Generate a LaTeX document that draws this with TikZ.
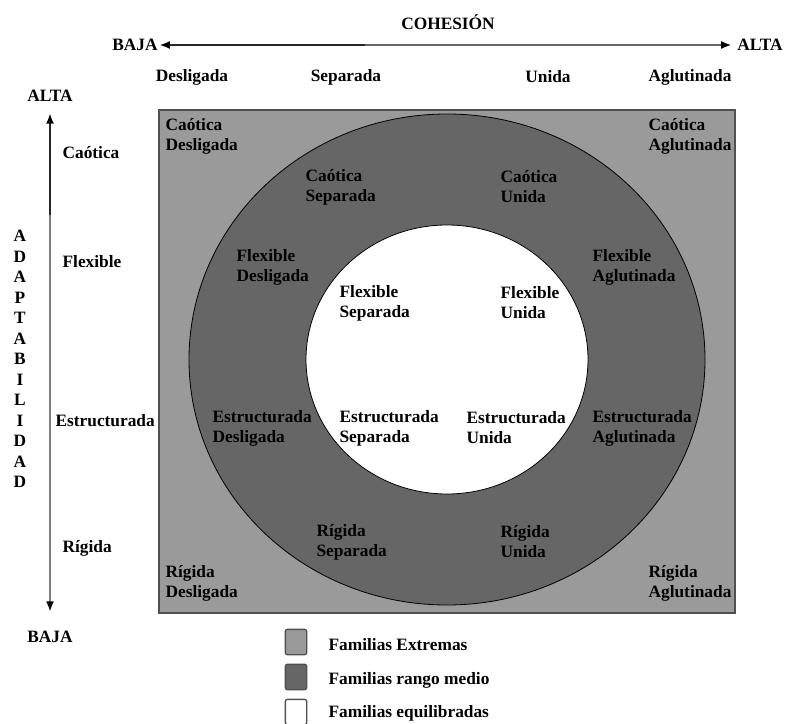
\documentclass[tikz,border=0pt]{standalone}
\usepackage{fontspec}
\setmainfont{Liberation Serif}
\usetikzlibrary{arrows.meta}

\definecolor{extrema}{HTML}{9A9A9A}
\definecolor{medio}{HTML}{666666}
\definecolor{rand}{HTML}{505050}

\begin{document}
\begin{tikzpicture}[>={Latex[length=8pt,width=6pt,black]},x=0.75pt,y=-0.75pt,
  every node/.style={font=\fontsize{13}{15}\selectfont\bfseries,inner sep=1pt},
  lab/.style={align=left,anchor=west},
  legbox/.style={draw=rand,line width=1pt,rounded corners=1.5pt,minimum width=16pt,minimum height=19pt}]
\useasboundingbox (0,0) rectangle (786,724);

% Rechteck und Ringe
\draw[rand,line width=1.2pt,fill=extrema] (159,110) rectangle (735,613);
\draw[line width=0.6pt,fill=medio] (447,359.5) ellipse[x radius=258,y radius=245.5];
\draw[line width=0.6pt,fill=white] (447,359.5) ellipse[x radius=141,y radius=134.5];

% Cohesion
\node (cohesion) at (448,22) {COHESIÓN};
\node (bajaH) at (135,45) {BAJA};
\node (altaH) at (760,45) {ALTA};
\coordinate (hm) at (365,45);
\draw[->,line width=1.8pt,black!85] (hm) -- (bajaH.east);
\draw[->,line width=1.8pt,black!60] (hm) -- ([xshift=-3pt]altaH.west);
\node (desl) at (192,77) {Desligada};
\node (sepa) at (346,77) {Separada};
\node (unid) at (548,77) {Unida};
\node (aglu) at (690,77) {Aglutinada};

% Adaptabilidad
\node (altaV) at (50,96) {ALTA};
\node (bajaV) at (50,637) {BAJA};
\coordinate (vt) at (50,113);
\coordinate (vm) at (50,215);
\coordinate (vb) at (50,612);
\draw[->,line width=1.8pt,black!85] (vm) -- (vt);
\draw[->,line width=1.8pt,black!50] (vm) -- (vb);
\foreach \l [count=\i] in {A,D,A,P,T,A,B,I,L,I,D,A,D}
  \node (adap\i) at (20,{236+20.5*(\i-1)}) {\l};
\node[lab] (caot) at (61,153) {Caótica};
\node[lab] (flex) at (61,262) {Flexible};
\node[lab] (estr) at (54,421) {Estructurada};
\node[lab] (rigi) at (61,548) {Rígida};

% Felder
\node[lab] (cd) at (164,136) {Caótica\\Desligada};
\node[lab] (ca) at (647,136) {Caótica\\Aglutinada};
\node[lab] (rd) at (164,583) {Rígida\\Desligada};
\node[lab] (ra) at (647,583) {Rígida\\Aglutinada};
\node[lab] (cs) at (304,187) {Caótica\\Separada};
\node[lab] (cu) at (499,187) {Caótica\\Unida};
\node[lab] (fd) at (235,267) {Flexible\\Desligada};
\node[lab] (fa) at (591,267) {Flexible\\Aglutinada};
\node[lab] (ed) at (211,428) {Estructurada\\Desligada};
\node[lab] (ea) at (591,428) {Estructurada\\Aglutinada};
\node[lab] (rs) at (315,542) {Rígida\\Separada};
\node[lab] (ru) at (499,542) {Rígida\\Unida};
\node[lab] (fs) at (338,303) {Flexible\\Separada};
\node[lab] (fu) at (499,303) {Flexible\\Unida};
\node[lab] (es) at (338,428) {Estructurada\\Separada};
\node[lab] (eu) at (465,428) {Estructurada\\Unida};

% Legende
\node[legbox,fill=extrema] (box1) at (296,642) {};
\node[legbox,fill=medio] (box2) at (296,677) {};
\node[legbox,fill=white] (box3) at (296,712) {};
\node[lab] (leg1) at (327,645) {Familias Extremas};
\node[lab] (leg2) at (327,680) {Familias rango medio};
\node[lab] (leg3) at (327,713) {Familias equilibradas};

\end{tikzpicture}
\end{document}
